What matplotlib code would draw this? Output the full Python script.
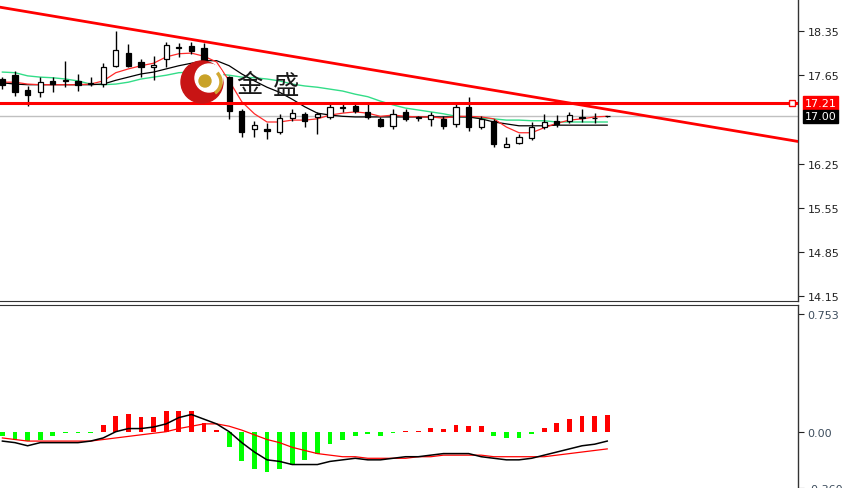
import matplotlib.pyplot as plt
import matplotlib.transforms as mtransforms
from matplotlib.patches import Ellipse, Arc

# candles (open, high, low, close)
opens = [17.59, 17.65, 17.42, 17.39, 17.56, 17.56, 17.56, 17.51, 17.51, 17.80,
         18.00, 17.86, 17.78, 17.91, 18.08, 18.11, 18.08, 17.56, 17.62, 17.08,
         16.80, 16.80, 16.75, 16.97, 17.04, 16.99, 16.99, 17.13, 17.16, 17.07,
         16.96, 16.85, 17.07, 16.98, 16.96, 16.96, 16.88, 17.15, 16.83, 16.93,
         16.52, 16.58, 16.66, 16.83, 16.93, 16.93, 16.98, 16.97, 17.00]
highs = [17.62, 17.72, 17.48, 17.62, 17.62, 17.88, 17.67, 17.62, 17.84, 18.35,
         18.14, 17.91, 17.95, 18.18, 18.16, 18.18, 18.16, 17.64, 17.64, 17.12,
         16.93, 16.89, 17.04, 17.12, 17.07, 17.07, 17.20, 17.20, 17.21, 17.23,
         16.99, 17.12, 17.12, 17.00, 17.07, 17.00, 17.20, 17.31, 17.00, 16.96,
         16.67, 16.72, 16.91, 17.04, 17.02, 17.07, 17.12, 17.05, 17.01]
lows = [17.43, 17.32, 17.16, 17.31, 17.39, 17.46, 17.40, 17.48, 17.46, 17.78,
        17.78, 17.62, 17.58, 17.78, 17.94, 17.99, 17.59, 17.39, 16.96, 16.67,
        16.67, 16.64, 16.72, 16.93, 16.83, 16.72, 16.96, 17.07, 17.05, 16.96,
        16.83, 16.80, 16.93, 16.93, 16.85, 16.80, 16.83, 16.77, 16.80, 16.52,
        16.51, 16.56, 16.63, 16.80, 16.83, 16.89, 16.91, 16.89, 16.99]
closes = [17.50, 17.39, 17.34, 17.54, 17.51, 17.57, 17.50, 17.53, 17.78, 18.05,
          17.80, 17.78, 17.81, 18.13, 18.10, 18.03, 17.72, 17.58, 17.08, 16.75,
          16.86, 16.77, 16.97, 17.05, 16.93, 17.04, 17.15, 17.15, 17.08, 16.99,
          16.85, 17.04, 16.96, 16.99, 17.02, 16.85, 17.15, 16.83, 16.96, 16.56,
          16.56, 16.67, 16.83, 16.91, 16.88, 17.02, 16.99, 16.98, 17.00]

# moving averages
ma_fast = [17.54, 17.54, 17.51, 17.50, 17.50, 17.50, 17.50, 17.51, 17.56, 17.69,
           17.75, 17.80, 17.84, 17.94, 17.99, 18.00, 17.95, 17.86, 17.56, 17.23,
           17.04, 16.91, 16.91, 16.94, 16.94, 16.96, 17.02, 17.05, 17.07, 17.05,
           17.00, 17.02, 17.00, 16.99, 16.99, 16.97, 17.00, 17.00, 16.99, 16.96,
           16.83, 16.74, 16.74, 16.82, 16.89, 16.94, 16.96, 16.99, 17.00]
ma_mid = [17.53, 17.51, 17.50, 17.50, 17.50, 17.50, 17.50, 17.50, 17.51, 17.57,
          17.62, 17.67, 17.70, 17.75, 17.80, 17.84, 17.88, 17.88, 17.80, 17.67,
          17.56, 17.46, 17.38, 17.27, 17.15, 17.05, 17.02, 17.00, 16.99, 16.99,
          16.99, 16.99, 16.99, 16.99, 16.99, 16.99, 16.99, 16.99, 16.96, 16.91,
          16.88, 16.85, 16.85, 16.85, 16.86, 16.86, 16.86, 16.86, 16.86]
ma_slow = [17.70, 17.69, 17.64, 17.62, 17.61, 17.59, 17.56, 17.51, 17.50, 17.51,
           17.54, 17.59, 17.62, 17.65, 17.69, 17.70, 17.69, 17.67, 17.65, 17.62,
           17.61, 17.59, 17.56, 17.51, 17.48, 17.46, 17.43, 17.40, 17.35, 17.31,
           17.24, 17.18, 17.13, 17.10, 17.07, 17.04, 17.00, 16.99, 16.97, 16.96,
           16.94, 16.94, 16.93, 16.93, 16.91, 16.91, 16.91, 16.91, 16.91]

# MACD panel
macd_hist = [-0.03, -0.055, -0.06, -0.055, -0.025, -0.01, -0.008, -0.006, 0.045, 0.10,
             0.11, 0.095, 0.095, 0.13, 0.135, 0.13, 0.055, 0.008, -0.095, -0.19,
             -0.24, -0.26, -0.24, -0.21, -0.18, -0.14, -0.08, -0.05, -0.025, -0.015,
             -0.025, -0.01, 0.005, 0.005, 0.025, 0.02, 0.045, 0.035, 0.035, -0.03,
             -0.04, -0.04, -0.015, 0.025, 0.055, 0.08, 0.10, 0.10, 0.105]
macd_line = [-0.06, -0.07, -0.09, -0.07, -0.07, -0.07, -0.07, -0.06, -0.04, 0.00,
             0.02, 0.02, 0.03, 0.05, 0.09, 0.11, 0.08, 0.05, 0.00, -0.07,
             -0.13, -0.18, -0.19, -0.21, -0.21, -0.21, -0.19, -0.18, -0.17, -0.18,
             -0.18, -0.17, -0.16, -0.16, -0.15, -0.14, -0.14, -0.14, -0.16, -0.17,
             -0.18, -0.18, -0.17, -0.15, -0.13, -0.11, -0.09, -0.08, -0.06]
macd_signal = [-0.04, -0.05, -0.06, -0.06, -0.06, -0.06, -0.06, -0.06, -0.05, -0.04,
               -0.03, -0.02, -0.01, 0.00, 0.02, 0.035, 0.05, 0.05, 0.035, 0.01,
               -0.02, -0.05, -0.07, -0.10, -0.12, -0.14, -0.15, -0.16, -0.16, -0.17,
               -0.17, -0.17, -0.17, -0.16, -0.16, -0.15, -0.15, -0.15, -0.15, -0.16,
               -0.16, -0.16, -0.16, -0.16, -0.15, -0.14, -0.13, -0.12, -0.11]

hline_price = 17.21
bid_price = 17.00
trend_a = (0, 18.72)
trend_b = (48, 17.11)
price_ticks = [18.35, 17.65, 16.25, 15.55, 14.85, 14.15]
macd_ticks = [0.753, 0.0, -0.360]
macd_tick_labels = ['0.753', '0.00', '-0.360']

W, H = 845, 489
fig = plt.figure(figsize=(W / 100, H / 100), dpi=100)
fig.patch.set_facecolor('white')

ax = fig.add_axes([0, (H - 302) / H, 798 / W, 302 / H])
ax2 = fig.add_axes([0, 0, 798 / W, (H - 306) / H])

n = len(opens)
xs = list(range(n))

# ---- price panel ----
ax.plot(xs, ma_slow, color='#33dd88', lw=1.0, zorder=2)
ax.plot(xs, ma_mid, color='black', lw=0.9, zorder=2)
ax.plot(xs, ma_fast, color='#ff2a2a', lw=0.9, zorder=2)

ax.vlines(xs, lows, highs, color='black', lw=1.0, zorder=3)
for i in xs:
    o, c = opens[i], closes[i]
    bull = c >= o
    h = max(abs(c - o), 0.006)
    ax.bar(i, h, bottom=min(o, c), width=0.42,
           color='white' if bull else 'black', edgecolor='black', lw=0.9, zorder=4)

ax.axhline(bid_price, color='#c0c0c0', lw=1.0, zorder=1)
ax.axhline(hline_price, color='#ff0000', lw=2.2, zorder=5)
ax.axline(trend_a, trend_b, color='#ff0000', lw=2.0, zorder=5)

blend = mtransforms.blended_transform_factory(ax.transAxes, ax.transData)
ax.plot([0.992], [hline_price], marker='s', ms=4, mfc='white', mec='red', mew=1,
        transform=blend, clip_on=False, zorder=6)

ax.set_xlim(-0.19, 63.14)
ax.set_ylim(14.078, 18.856)

# ---- MACD panel ----
hcol = ['#ff0000' if v >= 0 else '#00ff00' for v in macd_hist]
ax2.bar(xs, macd_hist, width=0.38, color=hcol, zorder=2)
ax2.plot(xs, macd_signal, color='#ff0000', lw=0.9, zorder=3)
ax2.plot(xs, macd_line, color='black', lw=1.1, zorder=4)
ax2.set_xlim(-0.19, 63.14)
ax2.set_ylim(-0.354, 0.81)

for a in (ax, ax2):
    a.set_facecolor('white')
    a.set_xticks([])
    a.yaxis.tick_right()
    a.tick_params(axis='y', direction='out', length=4, width=0.8, pad=3,
                  labelsize=8, colors='#222222')
    a.spines['left'].set_visible(False)
    a.spines['right'].set_color('#333333')
    a.spines['right'].set_linewidth(1.0)

ax.spines['top'].set_visible(False)
ax.spines['bottom'].set_color('#333333')
ax2.spines['top'].set_color('#333333')
ax2.spines['bottom'].set_visible(False)

ax.set_yticks(price_ticks)
ax.set_yticklabels(['%.2f' % v for v in price_ticks])
ax2.set_yticks(macd_ticks)
ax2.set_yticklabels(macd_tick_labels)
ax2.tick_params(axis='y', labelcolor='#3c4c5c')

# price labels on the scale
ax.annotate('%.2f' % hline_price, xy=(1.0, hline_price), xycoords=blend,
            xytext=(5, 0), textcoords='offset points', va='center', ha='left',
            fontsize=8, color='white', annotation_clip=False,
            bbox=dict(boxstyle='square,pad=0.15', fc='#ff0000', ec='#ff0000'))
ax.annotate('%.2f' % bid_price, xy=(1.0, bid_price), xycoords=blend,
            xytext=(5, 0), textcoords='offset points', va='center', ha='left',
            fontsize=8, color='white', annotation_clip=False,
            bbox=dict(boxstyle='square,pad=0.15', fc='black', ec='black'))

# watermark logo
def fx(px):
    return px / W

def fy(py):
    return 1 - py / H

fig.add_artist(Ellipse((fx(202), fy(83)), 42 / W, 42 / H, color='#c81414', zorder=1))
fig.add_artist(Ellipse((fx(209), fy(79)), 28 / W, 28 / H, color='white', zorder=1))
fig.add_artist(Arc((fx(208), fy(83)), 26 / W, 26 / H, theta1=-70, theta2=60,
                   color='#d2a832', lw=2.5, zorder=1))
fig.add_artist(Ellipse((fx(205), fy(82)), 12 / W, 12 / H, color='#c9a227', zorder=1))
fig.text(fx(249), fy(86), '金', fontsize=19, family=['Noto Sans CJK SC'],
         ha='center', va='center', color='#1a1a1a', zorder=2)
fig.text(fx(286), fy(86), '盛', fontsize=19, family=['Noto Sans CJK SC'],
         ha='center', va='center', color='#1a1a1a', zorder=2)

fig.savefig('out.png', dpi=100)
